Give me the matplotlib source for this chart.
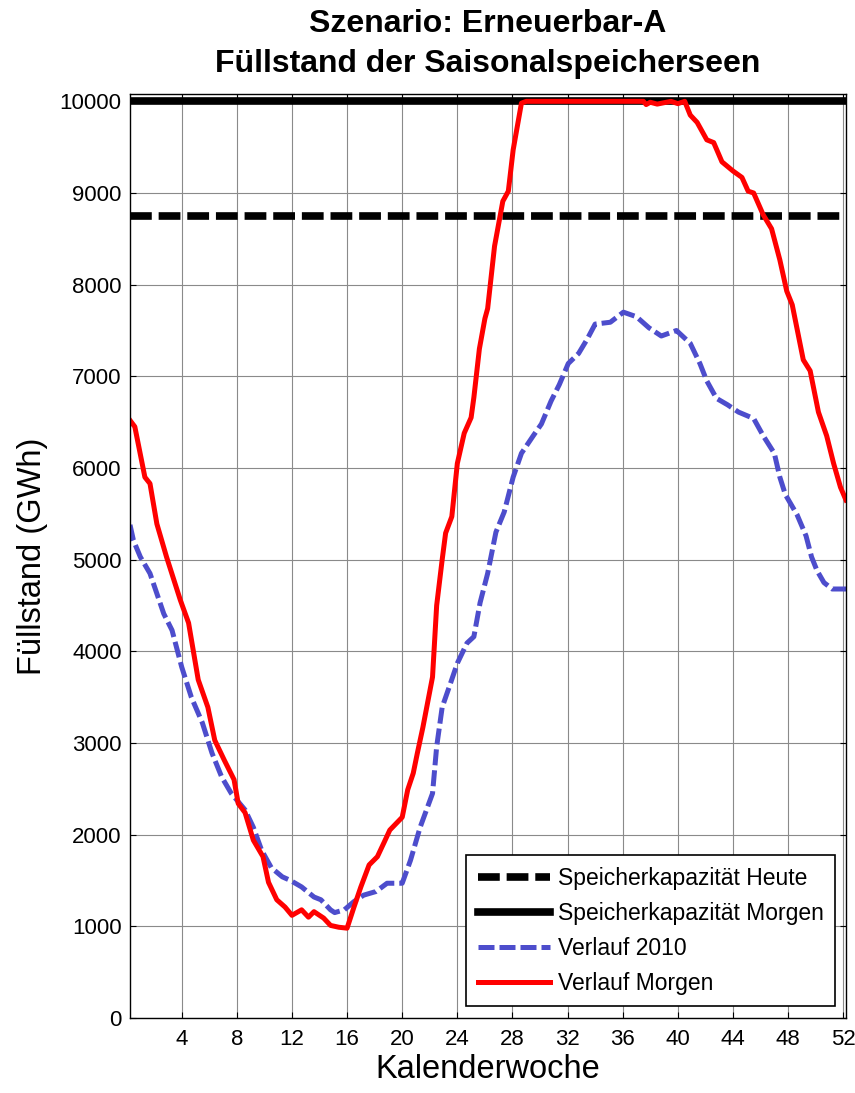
import numpy as np
import matplotlib
matplotlib.use('Agg')
import matplotlib.pyplot as plt

plt.rcParams['font.family'] = ['Liberation Sans', 'DejaVu Sans']

# Speicherkapazitaeten (GWh)
cap_heute = 8750
cap_morgen = 10000

# Verlauf Morgen (rot)
wk_morgen = [0.25, 0.6, 1.33, 1.7, 2.2, 2.9, 3.9, 4.5, 5.2, 5.9, 6.4, 7.1, 7.8, 8.1,
             8.6, 9.2, 9.9, 10.3, 10.9, 11.5, 12.0, 12.7, 13.2, 13.6, 14.3, 14.8,
             15.4, 16.0, 16.5, 17.0, 17.6, 18.2, 18.7, 19.1, 20.0, 20.4, 20.8, 21.1,
             21.5, 22.2, 22.5, 22.9, 23.15, 23.6, 24.0, 24.5, 25.0, 25.2, 25.6, 26.0,
             26.2, 26.7, 27.3, 27.7, 28.05, 28.65, 29.0, 37.5, 37.7, 38.0, 38.5, 39.0,
             39.5, 40.0, 40.5, 40.9, 41.4, 42.1, 42.6, 43.2, 44.0, 44.65, 45.1, 45.5,
             46.2, 46.8, 47.4, 47.9, 48.3, 49.1, 49.6, 50.2, 50.8, 51.3, 51.8, 52.2]
val_morgen = [6520, 6450, 5900, 5830, 5390, 5030, 4560, 4310, 3690, 3390, 3030, 2810, 2600, 2340,
              2240, 1940, 1760, 1480, 1290, 1210, 1120, 1180, 1100, 1160, 1090, 1010,
              990, 980, 1210, 1430, 1670, 1760, 1920, 2050, 2190, 2490, 2670, 2890,
              3170, 3720, 4500, 5000, 5290, 5470, 6050, 6380, 6550, 6770, 7300, 7630,
              7740, 8420, 8910, 9020, 9470, 9980, 10000, 10000, 9965, 9990, 9970, 9985,
              10000, 9975, 10000, 9850, 9770, 9580, 9550, 9340, 9240, 9170, 9020, 9000,
              8760, 8610, 8270, 7930, 7780, 7180, 7060, 6610, 6350, 6050, 5790, 5650]

# Verlauf 2010 (blau)
wk_2010 = [0.25, 0.5, 1.0, 1.7, 2.7, 3.3, 4.0, 4.7, 5.5, 6.2, 6.9, 7.6, 8.6, 9.2, 9.8,
           10.5, 11.3, 11.9, 12.7, 13.6, 14.1, 14.8, 15.1, 15.8, 16.5, 17.2, 18.1, 18.9,
           20.0, 20.6, 21.3, 22.2, 22.5, 22.9, 23.5, 24.0, 24.7, 25.2, 25.65, 26.2, 26.8,
           27.4, 28.05, 28.65, 29.5, 30.1, 30.8, 31.4, 32.05, 32.8, 33.4, 34.0, 35.1,
           36.05, 37.0, 37.9, 38.8, 39.9, 40.9, 41.6, 42.1, 42.8, 43.6, 44.4, 45.5, 46.2,
           47.0, 47.4, 47.8, 48.65, 49.3, 49.7, 50.1, 50.6, 51.2, 52.2]
val_2010 = [5380, 5210, 5030, 4850, 4410, 4230, 3830, 3500, 3220, 2890, 2630, 2450, 2270, 2080, 1830,
            1640, 1540, 1500, 1430, 1320, 1290, 1180, 1150, 1180, 1270, 1340, 1380, 1470,
            1470, 1720, 2080, 2450, 2960, 3390, 3650, 3870, 4090, 4160, 4530, 4850, 5300,
            5520, 5900, 6160, 6350, 6480, 6730, 6910, 7140, 7250, 7400, 7570, 7590,
            7700, 7650, 7530, 7440, 7500, 7360, 7140, 6950, 6760, 6690, 6610, 6540, 6350,
            6160, 5900, 5710, 5490, 5260, 5030, 4880, 4750, 4680, 4680]

xticks = list(range(4, 53, 4))
yticks = list(range(0, 10001, 1000))

fig = plt.figure(figsize=(8.55, 10.93), dpi=100)
ax = fig.add_axes([130 / 855, 1 - 1018 / 1093, 716 / 855, 924 / 1093])

l1, = ax.plot([0.25, 52.2], [cap_heute, cap_heute], color='black', lw=5.5,
              label='Speicherkapazität Heute')
l1.set_dashes((2.85, 0.9))
ax.plot([0.25, 52.2], [cap_morgen, cap_morgen], color='black', lw=5.5,
        label='Speicherkapazität Morgen')
l3, = ax.plot(wk_2010, val_2010, color='#4D4DCC', lw=3.6, label='Verlauf 2010')
l3.set_dashes((3.2, 1.0))
ax.plot(wk_morgen, val_morgen, color='#FF0000', lw=3.6, label='Verlauf Morgen')

ax.set_xlim(0.25, 52.2)
ax.set_ylim(0, 10080)
ax.set_xticks(xticks)
ax.set_yticks(yticks)
ax.grid(True, color='#8a8a8a', lw=0.8)
ax.set_axisbelow(True)
ax.tick_params(direction='in', length=4, width=0.8, top=True, right=True, labelsize=16)
ax.tick_params(axis='x', pad=8)
ax.tick_params(axis='y', pad=6)
for s in ax.spines.values():
    s.set_color('black')
    s.set_linewidth(1.0)

ax.set_xlabel('Kalenderwoche', fontsize=23.5)
ax.set_ylabel('Füllstand (GWh)', fontsize=23.5)
ax.xaxis.set_label_coords(0.5, -0.0386)
ax.yaxis.set_label_coords(-0.114, 0.5)

fig.text(488 / 855, 1 - 31.7 / 1093, 'Szenario: Erneuerbar-A', ha='center', va='baseline',
         fontsize=23, fontweight='bold')
fig.text(488 / 855, 1 - 71.7 / 1093, 'Füllstand der Saisonalspeicherseen', ha='center',
         va='baseline', fontsize=23, fontweight='bold')

leg = ax.legend(loc='lower right', bbox_to_anchor=(0.985, 0.013), borderaxespad=0,
                fontsize=16.5, handlelength=3.15, handletextpad=0.35, labelspacing=0.52,
                borderpad=0.5, fancybox=False, framealpha=1)
leg.get_frame().set_edgecolor('black')
leg.get_frame().set_linewidth(1.2)

fig.savefig('out.png', dpi=100)
